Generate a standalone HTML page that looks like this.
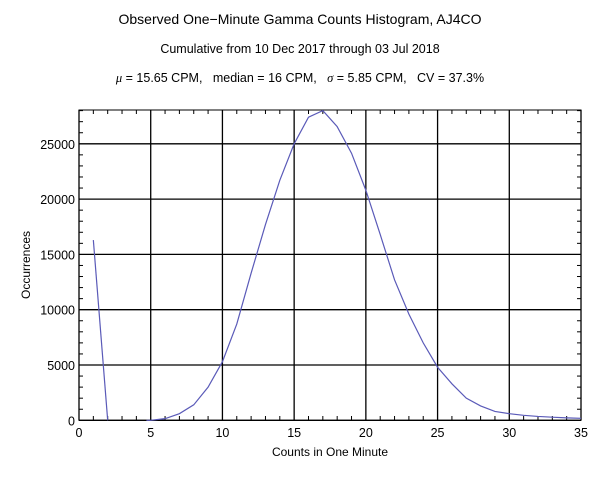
<!DOCTYPE html>
<html><head><style>
body{margin:0;background:#fff;width:600px;height:479px;overflow:hidden}
svg{font-family:"Liberation Sans",sans-serif}
text{white-space:pre}
</style></head><body>
<svg id="s" width="600" height="479" xmlns="http://www.w3.org/2000/svg">
<rect width="600" height="479" fill="#fff"/>
<text x="300" y="24" font-size="14" text-anchor="middle">Observed One−Minute Gamma Counts Histogram, AJ4CO</text>
<text x="300" y="53" font-size="12.5" text-anchor="middle">Cumulative from 10 Dec 2017 through 03 Jul 2018</text>
<text x="300" y="82" font-size="12.5" text-anchor="middle"><tspan font-family="Liberation Serif" font-style="italic">μ</tspan> = 15.65 CPM,   median = 16 CPM,   <tspan font-family="Liberation Serif" font-style="italic">σ</tspan> = 5.85 CPM,   CV = 37.3%</text>
<g id="g" stroke="#000" fill="none"></g>
<text x="330" y="456" font-size="12" text-anchor="middle">Counts in One Minute</text>
<text transform="translate(30,265) rotate(-90)" font-size="12" text-anchor="middle">Occurrences</text>
</svg>
<script>
var X=function(v){return 79+v*14.343},Y=function(v){return 420.3-v*0.01106};
var g=document.getElementById('g'),s=document.getElementById('s'),h='';
h+='<rect x="79" y="110" width="502" height="310.3" stroke-width="1"/>';
for(var i=0;i<=35;i++){var x=X(i);if(i%5==0){h+='<line x1="'+x+'" y1="110" x2="'+x+'" y2="420.3" stroke-width="1.3"/>';}else{h+='<line x1="'+x+'" y1="420.3" x2="'+x+'" y2="416" /><line x1="'+x+'" y1="110" x2="'+x+'" y2="114"/>';}}
for(var v=0;v<=28000;v+=1000){var y=Y(v);if(v%5000==0){h+='<line x1="79" y1="'+y+'" x2="581" y2="'+y+'" stroke-width="1.3"/>';}else{h+='<line x1="79" y1="'+y+'" x2="83" y2="'+y+'"/><line x1="581" y1="'+y+'" x2="577" y2="'+y+'"/>';}}
var t='';
for(var i=0;i<=35;i+=5)t+='<text x="'+X(i)+'" y="437" font-size="12.5" text-anchor="middle">'+i+'</text>';
for(var v=0;v<=25000;v+=5000)t+='<text x="75" y="'+(Y(v)+5)+'" font-size="12.5" text-anchor="end">'+v+'</text>';
var p1=[[1,16300],[2,0]];
var vals=[0,150,600,1400,3000,5300,8700,13300,17700,21700,25000,27400,28000,26550,24150,20800,16800,12700,9600,7000,4800,3300,2000,1300,800,600,450,350,280,220,180];
var p2=[[4.7,0]];for(var i=0;i<vals.length;i++)p2.push([5+i,vals[i]]);
function pl(p){return '<polyline fill="none" stroke="#5a5ab8" stroke-width="1.2" points="'+p.map(function(a){return X(a[0])+','+Y(a[1])}).join(' ')+'"/>';}
g.innerHTML=h;s.insertAdjacentHTML('beforeend',t+pl(p1)+pl(p2));
</script>
</body></html>
